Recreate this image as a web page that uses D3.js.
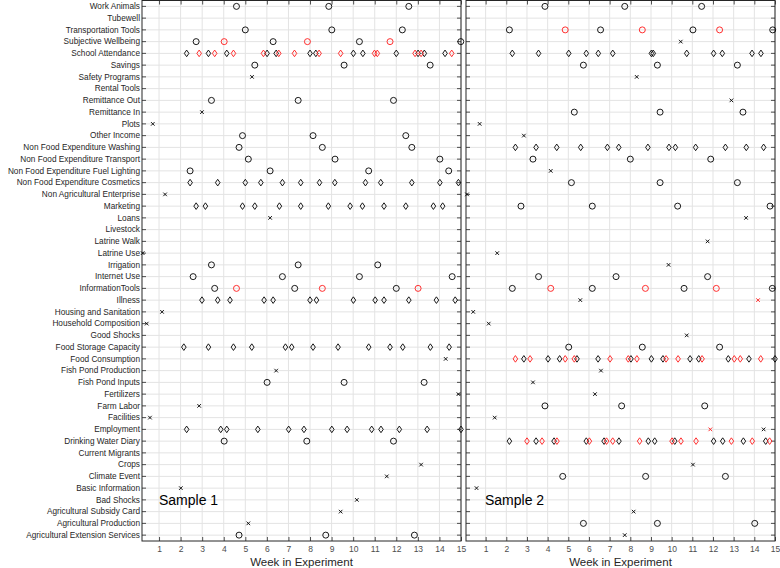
<!DOCTYPE html>
<html>
<head>
<meta charset="utf-8">
<script src="https://cdn.jsdelivr.net/npm/d3@7"></script>
<style>
  body { margin: 0; background: #fff; }
  svg { display: block; font-family: "Liberation Sans", Arial, sans-serif; }
</style>
</head>
<body>
<svg id="chart" width="780" height="568"></svg>
<script>
// categories, top to bottom
const categories = ["Work Animals", "Tubewell", "Transportation Tools", "Subjective Wellbeing",
  "School Attendance", "Savings", "Safety Programs", "Rental Tools", "Remittance Out", "Remittance In",
  "Plots", "Other Income", "Non Food Expenditure Washing", "Non Food Expenditure Transport",
  "Non Food Expenditure Fuel Lighting", "Non Food Expenditure Cosmetics", "Non Agricultural Enterprise",
  "Marketing", "Loans", "Livestock", "Latrine Walk", "Latrine Use", "Irrigation", "Internet Use",
  "InformationTools", "Illness", "Housing and Sanitation", "Household Composition", "Good Shocks",
  "Food Storage Capacity", "Food Consumption", "Fish Pond Production", "Fish Pond Inputs", "Fertilizers",
  "Farm Labor", "Facilities", "Employment", "Drinking Water Diary", "Current Migrants", "Crops",
  "Climate Event", "Basic Information", "Bad Shocks", "Agricultural Subsidy Card",
  "Agricultural Production", "Agricultural Extension Services"];

const weekTicks = d3.range(1, 16);

// ---- Sample 1 ----
const s1CircleBlack = {
  "Work Animals": [4.59, 8.87, 12.58],
  "Transportation Tools": [5.00, 9.01, 12.28],
  "Subjective Wellbeing": [2.72, 6.29, 10.29, 14.99],
  "Savings": [5.44, 9.58, 13.57],
  "Remittance Out": [3.43, 7.45, 11.87],
  "Other Income": [4.87, 8.14, 12.44],
  "Non Food Expenditure Washing": [4.71, 8.57, 12.72],
  "Non Food Expenditure Transport": [5.14, 9.16, 14.02],
  "Non Food Expenditure Fuel Lighting": [2.44, 6.15, 10.72, 14.43],
  "Irrigation": [3.43, 7.45, 11.14],
  "Internet Use": [2.58, 6.72, 10.29, 14.59],
  "InformationTools": [3.58, 7.29, 12.0],
  "Fish Pond Inputs": [6.01, 9.58, 13.29],
  "Drinking Water Diary": [4.02, 7.85, 11.87],
  "Agricultural Extension Services": [4.71, 8.73, 12.84]
};
const s1CircleRed = {
  "Subjective Wellbeing": [4.02, 7.88, 11.71],
  "InformationTools": [4.59, 8.57, 13.01]
};
const s1DiamondBlack = {
  "School Attendance": [2.28, 3.29, 4.14, 6.01, 6.43, 8.0, 8.27, 10.01, 10.45, 12.0, 13.01, 13.30, 14.26],
  "Non Food Expenditure Cosmetics": [2.44, 3.72, 5.0, 5.72, 6.72, 7.57, 8.44, 9.15, 10.57, 11.28, 12.72, 14.02, 14.88],
  "Marketing": [2.72, 3.15, 4.87, 5.44, 6.58, 7.57, 8.85, 9.86, 10.43, 11.43, 12.44, 13.72, 14.15],
  "Illness": [2.99, 3.72, 4.29, 5.87, 6.29, 8.0, 8.30, 10.01, 11.02, 11.43, 12.58, 13.86, 14.73],
  "Food Storage Capacity": [2.15, 3.29, 4.45, 5.30, 6.86, 7.15, 8.14, 9.30, 10.72, 11.71, 12.30, 13.58, 14.45],
  "Employment": [2.28, 3.86, 4.14, 5.58, 7.01, 7.72, 9.01, 9.72, 10.86, 11.29, 12.14, 13.43, 15.0]
};
const s1DiamondRed = {
  "School Attendance": [2.86, 3.58, 4.45, 5.84, 6.55, 7.28, 8.42, 9.42, 10.99, 11.12, 12.87, 13.15, 14.57]
};
const s1CrossBlack = {
  "Safety Programs": [5.31], "Remittance In": [2.99], "Plots": [0.71],
  "Non Agricultural Enterprise": [1.28], "Loans": [6.15], "Latrine Use": [0.24],
  "Housing and Sanitation": [1.14], "Household Composition": [0.43], "Food Consumption": [14.29],
  "Fish Pond Production": [6.43], "Fertilizers": [14.88], "Farm Labor": [2.86], "Facilities": [0.58],
  "Crops": [13.15], "Climate Event": [11.56], "Basic Information": [2.01], "Bad Shocks": [10.17],
  "Agricultural Subsidy Card": [9.42], "Agricultural Production": [5.14]
};
const s1CrossRed = {};

// ---- Sample 2 ----
const s2CircleBlack = {
  "Work Animals": [3.87, 7.73, 11.45],
  "Transportation Tools": [2.15, 6.56, 11.03, 14.89],
  "Savings": [5.73, 9.31, 13.18],
  "Remittance In": [5.29, 9.44, 13.45],
  "Non Food Expenditure Transport": [3.29, 8.0, 11.89],
  "Non Food Expenditure Cosmetics": [5.15, 9.44, 13.18],
  "Marketing": [2.71, 6.16, 10.29, 14.76],
  "Internet Use": [3.56, 7.31, 11.74],
  "InformationTools": [2.29, 6.16, 10.60, 14.87],
  "Food Storage Capacity": [5.02, 8.58, 12.32],
  "Farm Labor": [3.87, 7.58, 11.6],
  "Climate Event": [4.73, 8.74, 12.6],
  "Agricultural Production": [5.73, 9.31, 14.02]
};
const s2CircleRed = {
  "Transportation Tools": [4.85, 8.58, 12.32],
  "InformationTools": [4.15, 8.73, 12.16]
};
const s2DiamondBlack = {
  "School Attendance": [2.29, 3.56, 5.02, 5.87, 6.45, 7.15, 9.02, 9.11, 10.73, 12.03, 12.45, 13.89, 14.32],
  "Non Food Expenditure Washing": [2.44, 3.44, 4.44, 5.60, 6.89, 7.44, 8.85, 9.87, 10.18, 11.16, 12.60, 13.61, 14.45],
  "Food Consumption": [2.85, 4.02, 4.58, 5.42, 6.44, 8.03, 9.02, 9.58, 10.89, 11.31, 12.74, 13.74, 15.0],
  "Drinking Water Diary": [2.15, 3.44, 4.31, 5.87, 6.73, 7.45, 8.87, 9.18, 10.15, 12.03, 12.47, 13.47, 14.55]
};
const s2DiamondRed = {
  "Food Consumption": [2.44, 3.15, 4.85, 5.29, 7.02, 7.90, 8.32, 9.73, 10.31, 11.47, 13.03, 13.32, 14.31],
  "Drinking Water Diary": [3.0, 3.73, 4.45, 6.02, 6.85, 7.15, 8.45, 10.02, 10.45, 11.18, 12.89, 13.90, 14.74]
};
const s2CrossBlack = {
  "Subjective Wellbeing": [10.44], "Safety Programs": [8.31], "Remittance Out": [12.89], "Plots": [0.71],
  "Other Income": [2.85], "Non Food Expenditure Fuel Lighting": [4.15], "Non Agricultural Enterprise": [0.1],
  "Loans": [13.6], "Latrine Walk": [11.74], "Latrine Use": [1.56], "Irrigation": [9.85], "Illness": [5.58],
  "Housing and Sanitation": [0.40], "Household Composition": [1.15], "Good Shocks": [10.73],
  "Fish Pond Production": [6.58], "Fish Pond Inputs": [3.29], "Fertilizers": [6.29], "Facilities": [1.44],
  "Employment": [14.45], "Crops": [11.03], "Basic Information": [0.56], "Agricultural Subsidy Card": [8.16],
  "Agricultural Extension Services": [7.73]
};
const s2CrossRed = { "Illness": [14.18], "Employment": [11.87] };

const svg = d3.select("#chart");
const plotTop = 0.5, plotBottom = 541;
const axisColor = "#262626";

const y = d3.scaleBand().domain(categories).range([plotTop, plotBottom]).padding(0);
const yc = c => y(c) + y.bandwidth() / 2;

function flatten(obj) {
  const out = [];
  Object.keys(obj).forEach(c => obj[c].forEach(w => out.push({ cat: c, week: w })));
  return out;
}

function drawPanel(opt) {
  const x = d3.scaleLinear().domain(opt.domain).range([opt.left, opt.right]);
  const g = svg.append("g");

  // grid
  g.append("g").selectAll("line").data(weekTicks).join("line")
    .attr("x1", d => x(d)).attr("x2", d => x(d)).attr("y1", plotTop).attr("y2", plotBottom)
    .attr("stroke", "#e3e3e3").attr("stroke-width", 1);
  g.append("g").selectAll("line").data(categories).join("line")
    .attr("x1", opt.left).attr("x2", opt.right).attr("y1", d => yc(d)).attr("y2", d => yc(d))
    .attr("stroke", "#e3e3e3").attr("stroke-width", 1);

  // axes, ticks pointing inward
  const xb = g.append("g").attr("transform", `translate(0,${plotBottom})`)
    .call(d3.axisBottom(x).tickValues(weekTicks).tickSize(-4).tickPadding(5).tickSizeOuter(0));
  xb.selectAll("text").attr("fill", "#4d4d4d").style("font-size", "8.5px");
  g.append("g").attr("transform", `translate(0,${plotTop})`)
    .call(d3.axisTop(x).tickValues(weekTicks).tickSize(-4).tickFormat("").tickSizeOuter(0));
  const yl = g.append("g").attr("transform", `translate(${opt.left},0)`)
    .call(d3.axisLeft(y).tickSize(-4).tickPadding(2).tickSizeOuter(0)
      .tickFormat(opt.labels ? (d => d) : ""));
  yl.selectAll("text").attr("fill", "#262626").style("font-size", "8.25px");
  g.append("g").attr("transform", `translate(${opt.right},0)`)
    .call(d3.axisRight(y).tickSize(-4).tickFormat("").tickSizeOuter(0));
  g.selectAll(".domain").remove();
  g.selectAll(".tick line").attr("stroke", axisColor).attr("stroke-width", 0.8);

  g.append("rect").attr("x", opt.left).attr("y", plotTop)
    .attr("width", opt.right - opt.left).attr("height", plotBottom - plotTop)
    .attr("fill", "none").attr("stroke", axisColor).attr("stroke-width", 1);

  // markers
  const m = g.append("g").attr("fill", "none").attr("stroke-width", 0.9);
  function circles(obj, col) {
    m.append("g").selectAll("circle").data(flatten(obj)).join("circle")
      .attr("cx", d => x(d.week)).attr("cy", d => yc(d.cat)).attr("r", 3)
      .attr("stroke", col);
  }
  function diamonds(obj, col) {
    m.append("g").selectAll("path").data(flatten(obj)).join("path")
      .attr("d", "M0,-3.3L2.3,0L0,3.3L-2.3,0Z")
      .attr("transform", d => `translate(${x(d.week)},${yc(d.cat)})`)
      .attr("stroke", col);
  }
  function crosses(obj, col) {
    m.append("g").selectAll("path").data(flatten(obj)).join("path")
      .attr("d", "M-1.8,-1.8L1.8,1.8M-1.8,1.8L1.8,-1.8")
      .attr("transform", d => `translate(${x(d.week)},${yc(d.cat)})`)
      .attr("stroke", col);
  }
  const red = "#ff1a1a", black = "#000";
  circles(opt.circleBlack, black);
  circles(opt.circleRed, red);
  diamonds(opt.diamondBlack, black);
  diamonds(opt.diamondRed, red);
  crosses(opt.crossBlack, black);
  crosses(opt.crossRed, red);

  // labels
  svg.append("text").attr("x", (opt.left + opt.right) / 2).attr("y", 566)
    .attr("text-anchor", "middle").attr("fill", "#262626").style("font-size", "11.5px")
    .text("Week in Experiment");
  svg.append("text").attr("x", opt.textX).attr("y", 505)
    .attr("fill", "#000").style("font-size", "14px").text(opt.title);
}

drawPanel({
  left: 142, right: 461, domain: [0.21, 15], labels: true, title: "Sample 1", textX: 159,
  circleBlack: s1CircleBlack, circleRed: s1CircleRed, diamondBlack: s1DiamondBlack,
  diamondRed: s1DiamondRed, crossBlack: s1CrossBlack, crossRed: s1CrossRed
});
drawPanel({
  left: 466, right: 775, domain: [0.05, 15], labels: false, title: "Sample 2", textX: 485,
  circleBlack: s2CircleBlack, circleRed: s2CircleRed, diamondBlack: s2DiamondBlack,
  diamondRed: s2DiamondRed, crossBlack: s2CrossBlack, crossRed: s2CrossRed
});
</script>
</body>
</html>
